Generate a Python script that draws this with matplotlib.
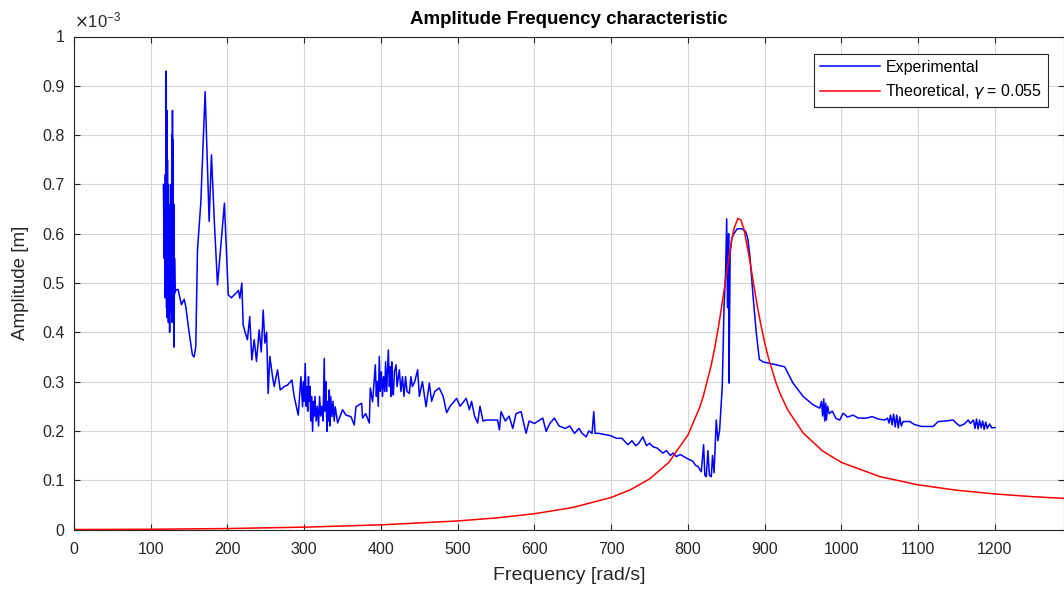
import numpy as np
import matplotlib
matplotlib.use("Agg")
from matplotlib import pyplot as plt
from matplotlib.ticker import FuncFormatter, MultipleLocator

plt.rcParams['font.family'] = ['Liberation Sans', 'DejaVu Sans']
plt.rcParams['mathtext.fontset'] = 'dejavusans'

# experimental curve, amplitude in units of 1e-3 m
exp_freq = [116.5, 117.5, 118.0, 118.5, 119.0, 119.5, 120.2, 120.6, 121.0, 121.4,
            121.8, 122.2, 122.6, 123.0, 123.4, 123.8, 124.2, 124.6, 125.0, 125.4,
            125.8, 126.2, 126.6, 127.0, 127.5, 128.0, 128.3, 128.7, 129.2, 129.6,
            130.0, 130.4, 131.0, 131.8, 132.6, 135.6, 140.0, 143.5, 145.7, 150.0,
            154.3, 156.5, 158.7, 160.9, 165.2, 170.9, 176.1, 179.1, 183.0, 187.0,
            196.0, 201.0, 205.0, 210.9, 214.3, 216.1, 218.7, 220.4, 223.0, 226.0,
            229.0, 231.7, 234.8, 237.8, 241.3, 244.0, 246.5, 248.7, 251.0, 253.0,
            255.2, 258.7, 260.9, 265.2, 268.7, 273.9, 278.2, 283.9, 286.9, 292.2,
            295.7, 297.8, 299.0, 300.0, 301.3, 302.5, 303.5, 304.5, 305.5, 306.5,
            307.5, 308.5, 309.5, 310.9, 312.0, 313.0, 314.0, 315.5, 317.0, 318.7,
            320.0, 321.5, 323.0, 324.5, 326.1, 327.0, 328.0, 329.6, 330.5, 331.5,
            332.6, 333.5, 334.5, 336.1, 337.5, 339.0, 340.4, 343.5, 350.0, 354.4,
            360.9, 365.2, 367.4, 374.8, 376.0, 380.0, 384.8, 386.1, 389.1, 392.6,
            394.0, 395.0, 396.5, 397.8, 399.0, 400.5, 402.0, 403.4, 405.0, 406.0,
            407.5, 409.6, 411.0, 412.0, 413.0, 414.0, 415.0, 416.1, 417.5, 419.6,
            421.0, 423.9, 426.0, 428.0, 430.0, 432.0, 434.0, 437.0, 439.0, 441.0,
            444.0, 447.8, 450.0, 454.0, 458.7, 463.0, 466.0, 470.0, 476.0, 481.0,
            485.6, 490.0, 498.6, 503.0, 508.0, 511.0, 515.2, 518.0, 522.0, 526.0,
            529.0, 533.0, 537.0, 545.0, 552.0, 554.3, 556.5, 562.0, 567.0, 571.7,
            576.0, 582.6, 586.0, 589.1, 593.0, 600.0, 605.0, 610.8, 615.2, 620.0,
            626.0, 632.0, 640.0, 646.0, 652.2, 658.0, 662.0, 667.4, 671.0, 675.0,
            677.3, 679.0, 684.0, 693.4, 700.0, 706.5, 714.0, 721.7, 727.0, 732.0,
            736.0, 741.2, 746.0, 750.0, 754.3, 760.0, 767.3, 772.0, 777.0, 780.4,
            784.8, 790.0, 797.8, 806.5, 810.0, 813.0, 817.4, 820.4, 822.0, 823.9,
            826.0, 828.0, 830.4, 832.0, 834.0, 836.9, 839.0, 841.3, 844.7, 847.0,
            849.0, 850.5, 851.5, 853.0, 853.5, 855.0, 857.0, 860.0, 864.0, 870.0,
            875.0, 878.0, 881.0, 885.0, 889.0, 893.0, 897.8, 906.5, 915.0, 926.0,
            936.9, 950.0, 963.0, 971.7, 974.0, 975.5, 977.0, 978.2, 979.5, 980.4,
            982.0, 984.0, 988.0, 993.0, 997.8, 1002.2, 1008.0, 1015.0, 1022.0, 1032.6,
            1040.0, 1048.0, 1056.5, 1060.0, 1062.0, 1064.0, 1066.0, 1068.0, 1070.0, 1072.0,
            1074.0, 1076.0, 1078.0, 1080.4, 1089.0, 1095.0, 1104.3, 1119.5, 1126.0, 1135.0,
            1145.6, 1150.0, 1154.3, 1160.0, 1165.2, 1168.0, 1172.0, 1174.0, 1176.0, 1178.0,
            1180.0, 1182.0, 1184.0, 1186.0, 1188.0, 1190.0, 1193.0, 1196.0, 1200.0]
exp_amp = [0.70, 0.55, 0.68, 0.47, 0.72, 0.60, 0.93, 0.45, 0.85, 0.43,
           0.75, 0.50, 0.70, 0.42, 0.66, 0.48, 0.62, 0.40, 0.60, 0.45,
           0.70, 0.44, 0.68, 0.47, 0.80, 0.42, 0.85, 0.44, 0.79, 0.45,
           0.66, 0.37, 0.55, 0.48, 0.486, 0.487, 0.456, 0.467, 0.452, 0.40,
           0.354, 0.35, 0.371, 0.567, 0.662, 0.888, 0.625, 0.760, 0.62, 0.496,
           0.662, 0.476, 0.47, 0.479, 0.485, 0.469, 0.500, 0.415, 0.40, 0.385,
           0.432, 0.344, 0.385, 0.341, 0.405, 0.36, 0.445, 0.378, 0.40, 0.276,
           0.351, 0.310, 0.290, 0.324, 0.283, 0.290, 0.293, 0.303, 0.270, 0.232,
           0.310, 0.249, 0.30, 0.26, 0.337, 0.25, 0.29, 0.24, 0.31, 0.26,
           0.29, 0.22, 0.27, 0.199, 0.26, 0.23, 0.27, 0.22, 0.25, 0.21,
           0.27, 0.23, 0.25, 0.22, 0.347, 0.24, 0.30, 0.199, 0.26, 0.22,
           0.283, 0.21, 0.27, 0.229, 0.26, 0.22, 0.249, 0.216, 0.243, 0.232,
           0.229, 0.212, 0.249, 0.256, 0.226, 0.235, 0.216, 0.287, 0.259, 0.334,
           0.27, 0.30, 0.25, 0.351, 0.28, 0.32, 0.27, 0.31, 0.28, 0.34,
           0.28, 0.364, 0.29, 0.33, 0.27, 0.34, 0.28, 0.273, 0.32, 0.334,
           0.29, 0.324, 0.28, 0.31, 0.27, 0.31, 0.28, 0.276, 0.31, 0.29,
           0.30, 0.324, 0.270, 0.30, 0.249, 0.297, 0.26, 0.28, 0.287, 0.27,
           0.237, 0.25, 0.266, 0.25, 0.26, 0.266, 0.243, 0.26, 0.23, 0.216,
           0.25, 0.22, 0.222, 0.222, 0.222, 0.202, 0.239, 0.22, 0.23, 0.205,
           0.235, 0.239, 0.215, 0.195, 0.22, 0.215, 0.22, 0.226, 0.199, 0.215,
           0.226, 0.21, 0.205, 0.21, 0.195, 0.205, 0.195, 0.188, 0.20, 0.195,
           0.239, 0.195, 0.195, 0.192, 0.19, 0.185, 0.185, 0.172, 0.18, 0.17,
           0.175, 0.188, 0.17, 0.175, 0.168, 0.165, 0.155, 0.16, 0.15, 0.155,
           0.148, 0.152, 0.145, 0.138, 0.13, 0.128, 0.117, 0.172, 0.11, 0.107,
           0.16, 0.11, 0.107, 0.15, 0.115, 0.222, 0.18, 0.202, 0.290, 0.45,
           0.52, 0.63, 0.45, 0.60, 0.297, 0.56, 0.59, 0.60, 0.61, 0.61,
           0.605, 0.59, 0.55, 0.47, 0.40, 0.345, 0.340, 0.337, 0.334, 0.330,
           0.297, 0.270, 0.253, 0.246, 0.26, 0.23, 0.265, 0.22, 0.256, 0.222,
           0.25, 0.235, 0.24, 0.225, 0.222, 0.236, 0.228, 0.232, 0.226, 0.226,
           0.229, 0.224, 0.222, 0.226, 0.216, 0.232, 0.212, 0.234, 0.208, 0.232,
           0.206, 0.228, 0.21, 0.219, 0.219, 0.213, 0.209, 0.209, 0.219, 0.220,
           0.222, 0.215, 0.210, 0.214, 0.222, 0.215, 0.222, 0.205, 0.224, 0.204,
           0.222, 0.206, 0.220, 0.203, 0.218, 0.205, 0.214, 0.206, 0.207]

# theoretical curve (gamma = 0.055), amplitude in units of 1e-3 m
theo_freq = [0, 100, 200, 300, 400, 500, 550, 600, 650, 700,
             725, 750, 775, 800, 815, 820, 830, 835, 840, 845,
             850, 857, 860, 865, 869, 873, 880, 885, 890, 895,
             900, 905, 915, 920, 930, 950, 975, 1000, 1050, 1100,
             1150, 1200, 1250, 1300]
theo_amp = [0.0, 0.00047, 0.00196, 0.00474, 0.00942, 0.01735, 0.02345, 0.0320, 0.04466, 0.06503,
            0.08057, 0.1026, 0.1360, 0.1918, 0.2464, 0.2705, 0.3311, 0.3692, 0.4133, 0.4631,
            0.5166, 0.5873, 0.6104, 0.6309, 0.6279, 0.6089, 0.5510, 0.5031, 0.4569, 0.4152,
            0.3787, 0.3471, 0.2963, 0.2759, 0.2426, 0.1961, 0.1597, 0.1360, 0.1073, 0.09057,
            0.0797, 0.0721, 0.0665, 0.0622]

gamma = 0.055

fig = plt.figure(figsize=(10.64, 5.94), dpi=100)
ax = fig.add_axes([74 / 1064, 64.5 / 594, 990 / 1064, 493 / 594])

ax.plot(exp_freq, np.array(exp_amp) * 1e-3, color=(0, 0, 1), lw=1.1, label='Experimental')
ax.plot(theo_freq, np.array(theo_amp) * 1e-3, color=(1, 0, 0), lw=1.1,
        label=r'Theoretical, $\gamma$ = ' + str(gamma))

ax.set_xlim(0, 1290)
ax.set_ylim(0, 1e-3)
ax.xaxis.set_major_locator(MultipleLocator(100))
ax.yaxis.set_major_locator(MultipleLocator(1e-4))
ax.yaxis.set_major_formatter(FuncFormatter(lambda v, p: '%g' % round(v * 1e3, 3)))

ax.grid(True, color='#d6d6d6', lw=0.8)
ax.set_axisbelow(True)
for s in ax.spines.values():
    s.set_color('#262626')
    s.set_linewidth(0.8)
ax.tick_params(direction='in', length=4, width=0.8, top=True, right=True,
               labelsize=11.5, colors='#262626')
ax.tick_params(axis='x', pad=9)
ax.tick_params(axis='y', pad=7)

ax.set_title('Amplitude Frequency characteristic', fontsize=13.5, fontweight='bold',
             color='black', pad=9)
ax.set_xlabel('Frequency [rad/s]', fontsize=14, color='#262626', labelpad=7)
ax.set_ylabel('Amplitude [m]', fontsize=13.5, color='#262626', labelpad=9)
ax.text(0.0, 1.012, r'$\times\mathregular{10^{-3}}$', transform=ax.transAxes,
        fontsize=12, color='#262626', va='bottom', ha='left')

leg = ax.legend(loc='upper right', bbox_to_anchor=(0.9838, 0.9635), fontsize=11.5,
                fancybox=False, framealpha=1, edgecolor='#262626',
                handlelength=3.8, handletextpad=0.3, borderpad=0.35, labelspacing=0.45,
                borderaxespad=0)
leg.get_frame().set_linewidth(0.8)

fig.savefig('out.png', dpi=100)
